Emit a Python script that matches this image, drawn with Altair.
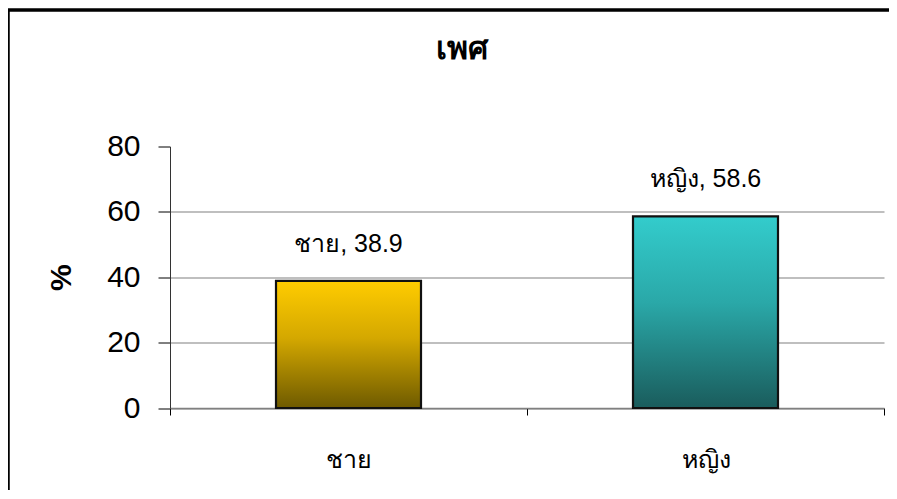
import altair as alt
import pandas as pd

categories = ["ชาย", "หญิง"]
values = [38.9, 58.6]
title_text = "เพศ"
y_title = "%"

df = pd.DataFrame({"cat": categories, "val": values})
df["label"] = df["cat"] + ", " + df["val"].map(lambda v: f"{v:.1f}")

FONT = "Liberation Sans"
W, H = 714, 261.5

x_enc = alt.X("cat:N", sort=categories, title=None,
              scale=alt.Scale(paddingInner=0, paddingOuter=0),
              axis=alt.Axis(labelAngle=0, labelFontSize=25, labelFont=FONT, labelColor="#000",
                            labelPadding=32, tickBand="extent", tickSize=7, tickColor="#000",
                            domainColor="#808080", domainWidth=1.5, grid=False))
y_enc = alt.Y("val:Q", title=y_title,
              scale=alt.Scale(domain=[0, 80], nice=False),
              axis=alt.Axis(values=[0, 20, 40, 60, 80], labelFontSize=30, labelFont=FONT,
                            labelColor="#000", labelPadding=18, tickSize=12, tickColor="#000",
                            domainColor="#333", grid=True, gridColor="#808080", gridWidth=1.2,
                            gridOpacity={"condition": {"test": "datum.value === 80", "value": 0},
                                         "value": 1},
                            titleFontSize=30, titleFont=FONT, titleFontWeight="bold",
                            titleColor="#000", titlePadding=30))

base = alt.Chart(df)

gold = alt.Gradient(gradient="linear", x1=0, y1=0, x2=0, y2=1,
                    stops=[alt.GradientStop(color="#FFCC00", offset=0),
                           alt.GradientStop(color="#D4A800", offset=0.45),
                           alt.GradientStop(color="#6E5A00", offset=1)])
teal = alt.Gradient(gradient="linear", x1=0, y1=0, x2=0, y2=1,
                    stops=[alt.GradientStop(color="#33CCCC", offset=0),
                           alt.GradientStop(color="#2AA8A8", offset=0.45),
                           alt.GradientStop(color="#1A5C5C", offset=1)])

bar1 = base.transform_filter(alt.datum.cat == categories[0]).mark_bar(
    size=145, fill=gold, stroke="#111", strokeWidth=2.2).encode(x=x_enc, y=y_enc)
bar2 = base.transform_filter(alt.datum.cat == categories[1]).mark_bar(
    size=145, fill=teal, stroke="#111", strokeWidth=2.2).encode(x=x_enc, y=y_enc)

labels = base.mark_text(fontSize=25, font=FONT, color="#000", baseline="bottom", dy=-24).encode(
    x=x_enc, y=y_enc, text="label:N")

border = base.mark_rect(filled=False, stroke="#000", strokeWidth=3, clip=False).encode(
    x=alt.value(-162), x2=alt.value(740), y=alt.value(-136.5), y2=alt.value(370))

chart = alt.layer(bar1, bar2, labels, border).properties(
    width=W, height=H,
    background="white",
    title=alt.TitleParams(title_text, fontSize=32, font=FONT, fontWeight="bold", color="#000",
                          anchor="middle", dx=-65, offset=-57),
    autosize=alt.AutoSizeParams(type="none"),
    padding={"left": 162, "top": 138.5, "right": 5, "bottom": 82},
).configure_view(strokeWidth=0, stroke="transparent")

chart.save("out.html", embed_options={"renderer": "svg", "actions": False})
